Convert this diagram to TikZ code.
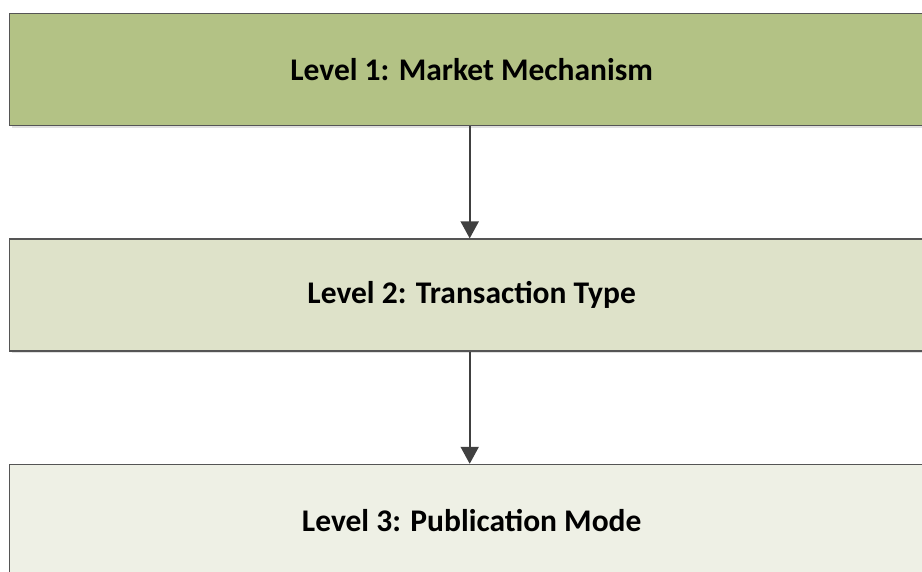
\documentclass[tikz,border=0pt]{standalone}
\usepackage{fontspec}
\setmainfont{Carlito}
\usepackage{tikz}
\usetikzlibrary{arrows.meta,positioning,shadows}
\definecolor{lvedge}{RGB}{85,85,85}
\definecolor{lvarr}{RGB}{64,64,64}
\definecolor{lvone}{RGB}{179,194,133}
\definecolor{lvtwo}{RGB}{222,226,201}
\definecolor{lvthree}{RGB}{238,240,229}
\tikzset{
  lvbox/.style={
    draw=lvedge, line width=1.4pt, align=center, inner sep=0pt,
    minimum width=924pt, minimum height=112pt,
    font=\fontsize{31.5}{36}\selectfont\bfseries,
    drop shadow={shadow xshift=2pt, shadow yshift=-2pt, fill=black!12, opacity=1}
  },
  one/.style={lvbox, fill=lvone},
  two/.style={lvbox, fill=lvtwo},
  three/.style={lvbox, fill=lvthree},
  arr/.style={-{Triangle[length=17pt,width=18pt]}, draw=lvarr, line width=2pt}
}
\begin{document}
\begin{tikzpicture}[x=1pt, y=-1pt, node distance=112pt]
  \useasboundingbox (0,0) rectangle (922,572);
  \clip (0,0) rectangle (922,572);
  \node[one, anchor=north west] (m1) at (9,13) {Level 1: Market Mechanism};
  \node[two, below=of m1] (m2) {Level 2: Transaction Type};
  \node[three, below=of m2] (m3) {Level 3: Publication Mode};
  \foreach \p/\q in {m1/m2,m2/m3} \draw[arr] ([xshift=-2pt]\p.south) -- ([xshift=-2pt]\q.north);
\end{tikzpicture}
\end{document}
